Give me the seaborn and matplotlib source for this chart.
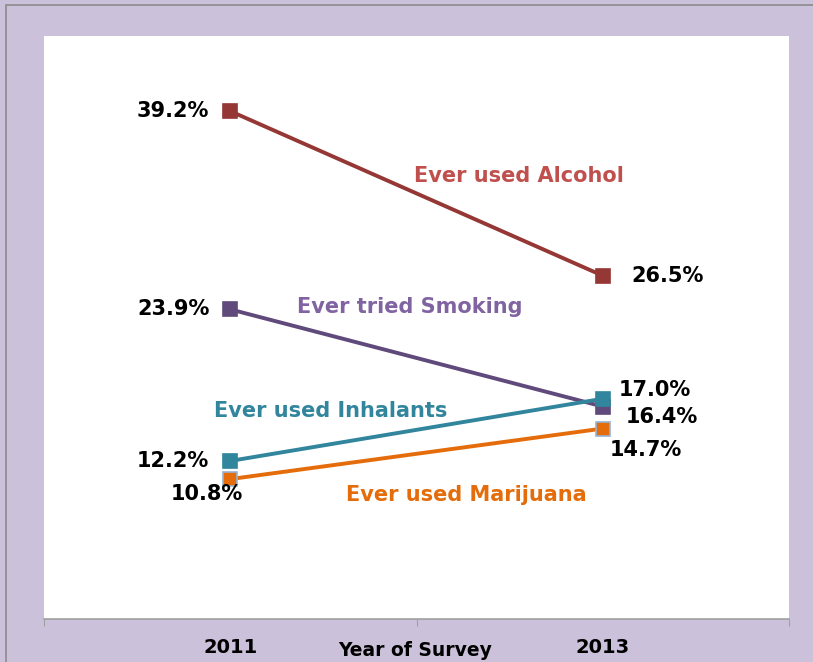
import pandas as pd
import matplotlib.pyplot as plt
import seaborn as sns
from matplotlib.patches import Rectangle

years = ["2011", "2013"]
measures = ["Ever used Alcohol", "Ever tried Smoking", "Ever used Inhalants", "Ever used Marijuana"]
alcohol = [39.2, 26.5]
smoking = [23.9, 16.4]
inhalants = [12.2, 17.0]
marijuana = [10.8, 14.7]

line_colors = ["#953735", "#604A7B", "#31859C", "#E46C0A"]
edge_colors = ["#953735", "#604A7B", "#31859C", "#95B3D7"]
text_colors = ["#C0504D", "#8064A2", "#31859C", "#E46C0A"]

# series name placement (data coords) and value label offsets (pixels)
name_pos = [(0.776, 34.2), (0.482, 24.1), (0.270, 16.05), (0.633, 9.57)]
val_offsets = [
    [((-21, 0), "right"), ((29, 0), "left")],
    [((-21, 0), "right"), ((23, -10), "left")],
    [((-21, 0), "right"), ((16, 9), "left")],
    [((-23, -15), "center"), ((7, -21), "left")],
]

df = pd.DataFrame({
    "year": years * 4,
    "measure": [m for m in measures for _ in years],
    "value": alcohol + smoking + inhalants + marijuana,
})

sns.set_style("white")
plt.rcParams["font.family"] = ["DejaVu Sans"]

fig = plt.figure(figsize=(8.13, 6.62), dpi=100)
fig.patch.set_facecolor("#CCC1DA")
fig.patches.append(Rectangle((6 / 813, -0.1), 1.1, 1.1 - 5 / 662, transform=fig.transFigure,
                             fill=False, edgecolor="#8C8C8C", linewidth=1.2))
ax = fig.add_axes([44 / 813, 43 / 662, 745 / 813, 583 / 662])
ax.set_facecolor("white")

for i, m in enumerate(measures):
    sub = df[df["measure"] == m]
    sns.lineplot(data=sub, x="year", y="value", ax=ax, color=line_colors[i], linewidth=2.8,
                 marker="s", markersize=10, markeredgecolor=edge_colors[i], markeredgewidth=1.2,
                 legend=False)
    for j, (v, (off, ha)) in enumerate(zip(sub["value"], val_offsets[i])):
        ax.annotate(f"{v:.1f}%", (j, v), xytext=off, textcoords="offset pixels",
                    ha=ha, va="center", fontsize=15, fontweight="bold", color="black")
    ax.text(name_pos[i][0], name_pos[i][1], m, ha="center", va="center",
            fontsize=15, fontweight="bold", color=text_colors[i])

ax.set_xlim(-0.5, 1.5)
ax.set_ylim(0, 45)
ax.set_yticks([])
ax.set_xticks([-0.5, 0.5, 1.5])
ax.set_xticklabels([])
ax.set_xticks([0, 1], minor=True)
ax.set_xticklabels(years, minor=True, fontsize=14, fontweight="bold", color="black")
ax.tick_params(axis="x", which="major", length=5, color="#A0A0A0", direction="out", bottom=True)
ax.tick_params(axis="x", which="minor", length=0, pad=14)
for s in ["top", "left", "right"]:
    ax.spines[s].set_visible(False)
ax.spines["bottom"].set_color("#A0A0A0")
ax.spines["bottom"].set_linewidth(1.2)
ax.set_xlabel("")
ax.set_ylabel("")
fig.text(415 / 813, 1 - 651 / 662, "Year of Survey", ha="center", va="center",
         fontsize=13.5, fontweight="bold", color="black")

fig.savefig("out.png", dpi=100, facecolor=fig.get_facecolor())
